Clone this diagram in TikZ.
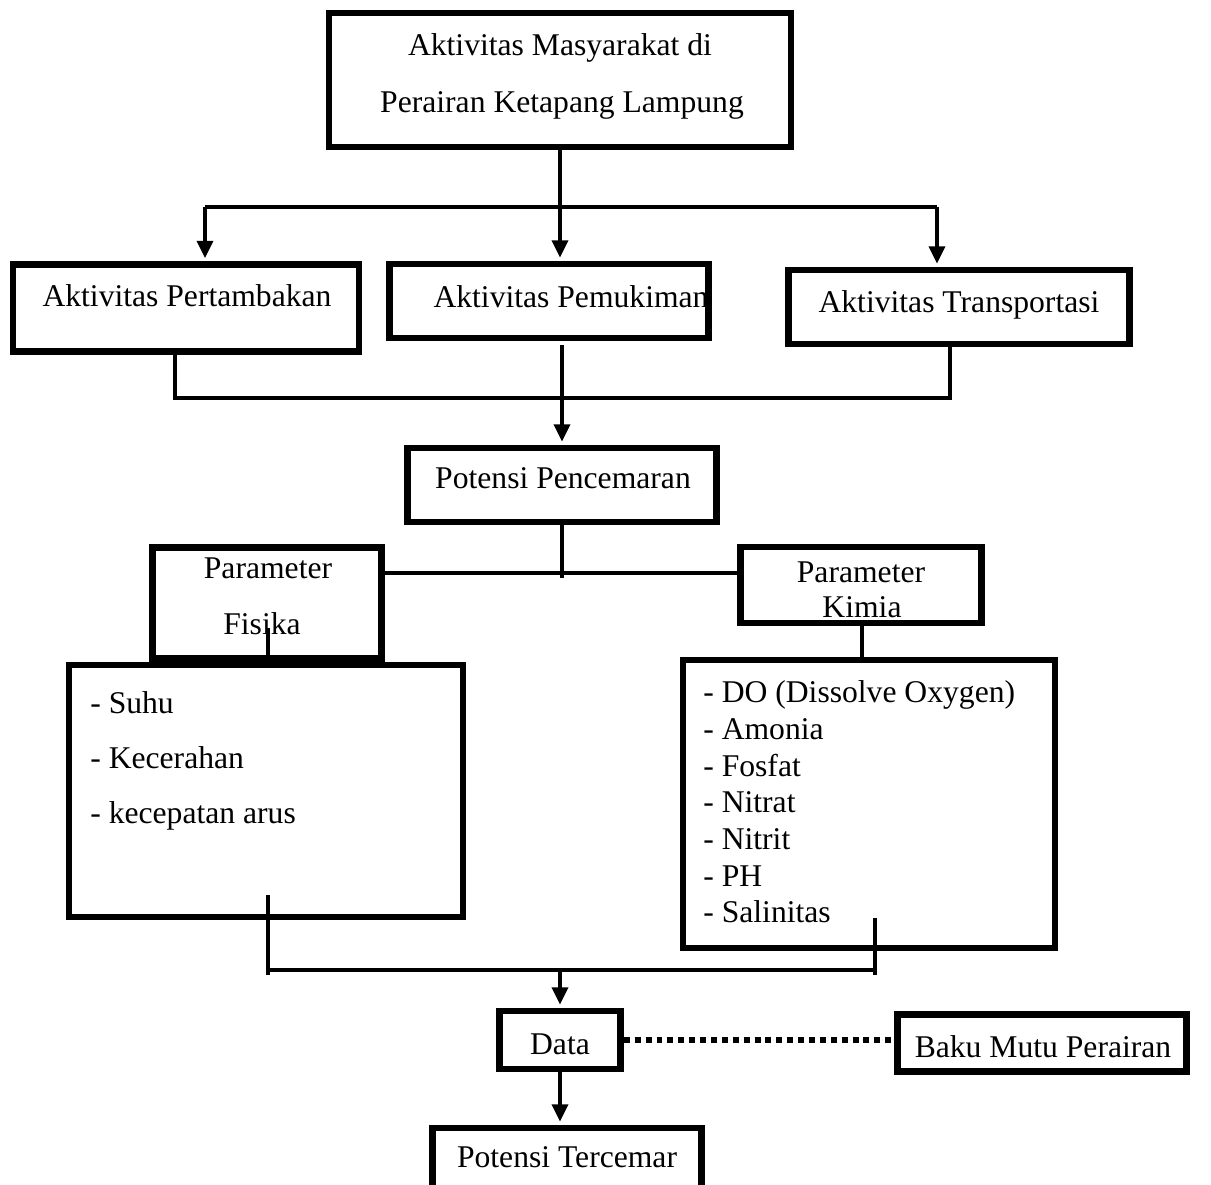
\documentclass[tikz,border=0pt]{standalone}
\usepackage{fontspec}
\setmainfont{Liberation Serif}
\usetikzlibrary{arrows.meta}
\begin{document}
\begin{tikzpicture}[x=0.02cm,y=-0.02cm,
  box/.style={draw, line width=3.8pt, inner sep=0pt},
  wh/.style 2 args={minimum width=#1*0.02cm, minimum height=#2*0.02cm},
  txt/.style={font=\fontsize{18}{21}\selectfont, inner sep=0pt, text height=0.7em, text depth=0.22em, yshift=-6*0.02cm},
  lst/.style={txt, anchor=west},
  con/.style={line width=2.3pt},
  arr/.style={con, -{Triangle[length=10pt,width=9pt]}, shorten >=1.6pt},
  dots/.style={line width=3.8pt, dash pattern=on 3.4pt off 2.8pt}]
\useasboundingbox (0,0) rectangle (1211,1184);
\clip (0,0) rectangle (1211,1184);
% boxes
\node[box, wh={462}{134}] (top) at (560,80) {};
\node[box, wh={346}{87}] (pert) at (186,308) {};
\node[box, wh={319}{74}] (pemu) at (549,301) {};
\node[box, wh={341}{74}] (trans) at (959,307) {};
\node[box, wh={309}{74}] (poten) at (562,485) {};
\node[box, wh={229}{111}] (fisika) at (267,603) {};
\node[box, wh={241}{76}] (kimia) at (861,585) {};
\node[box, wh={394}{252}] (fislist) at (266,791) {};
\node[box, wh={372}{288}] (kimlist) at (869,804) {};
\node[box, wh={121}{58}] (data) at (560,1040) {};
\node[box, wh={289}{57}] (baku) at (1042,1043) {};
\node[box, wh={269}{110}] (terc) at (567,1183) {};
% texts
\node[txt] (t1a) at (560,45) {Aktivitas Masyarakat di};
\node[txt] (t1b) at (562,102) {Perairan Ketapang Lampung};
\node[txt] (t2) at (187,296) {Aktivitas Pertambakan};
\node[txt] (t3) at (571,297) {Aktivitas Pemukiman};
\node[txt] (t4) at (959,302) {Aktivitas Transportasi};
\node[txt] (t5) at (563,478) {Potensi Pencemaran};
\node[txt] (t6a) at (268,568) {Parameter};
\node[txt] (t6b) at (262,624) {Fisika};
\node[txt] (t7a) at (861,572) {Parameter};
\node[txt] (t7b) at (862,607) {Kimia};
\node[lst] (f1) at (90,703) {- Suhu};
\node[lst] (f2) at (90,758) {- Kecerahan};
\node[lst] (f3) at (90,813) {- kecepatan arus};
\node[lst] (k1) at (703,692) {- DO (Dissolve Oxygen)};
\node[lst] (k2) at (703,729) {- Amonia};
\node[lst] (k3) at (703,766) {- Fosfat};
\node[lst] (k4) at (703,802) {- Nitrat};
\node[lst] (k5) at (703,839) {- Nitrit};
\node[lst] (k6) at (703,876) {- PH};
\node[lst] (k7) at (703,912) {- Salinitas};
\node[txt] (t8) at (560,1044) {Data};
\node[txt] (t9) at (1043,1047) {Baku Mutu Perairan};
\node[txt] (t10) at (567,1157) {Potensi Tercemar};
% connectors
\draw[arr] (top.south) -- (pemu.north -| top.south);
\coordinate (brL) at (205,207);
\coordinate (brR) at (937,207);
\draw[con] (brL) -- (brR);
\draw[arr] (brL) -- (brL |- pert.north);
\draw[arr] (brR) -- (brR |- trans.north);
\coordinate (mL) at (175,398);
\coordinate (mR) at (950,398);
\draw[con] (pert.south -| mL) -- (mL) -- (mR) -- (trans.south -| mR);
\coordinate (pm) at (562,345);
\draw[arr] (pm) -- (pm |- poten.north);
\coordinate (pj) at (562,578);
\draw[con] (poten.south -| pj) -- (pj);
\coordinate (hj) at (0,573);
\draw[con] (fisika.east |- hj) -- (kimia.west |- hj);
\coordinate (fs) at (268,628);
\draw[con] (fs) -- (fs |- fislist.north);
\coordinate (ks) at (862,0);
\draw[con] (kimia.south -| ks) -- (kimlist.north -| ks);
\coordinate (bL) at (268,895);
\coordinate (bR) at (875,918);
\coordinate (bj) at (560,970);
\draw[con] (bL) -- ++(0,80);
\draw[con] (bR) -- ++(0,57);
\draw[con] (bL |- bj) -- (bR |- bj);
\draw[arr] (bj) -- (data.north);
\draw[dots] (data.east) -- (data.east -| baku.west);
\draw[arr] (data.south) -- (data.south |- terc.north);
\end{tikzpicture}
\end{document}
